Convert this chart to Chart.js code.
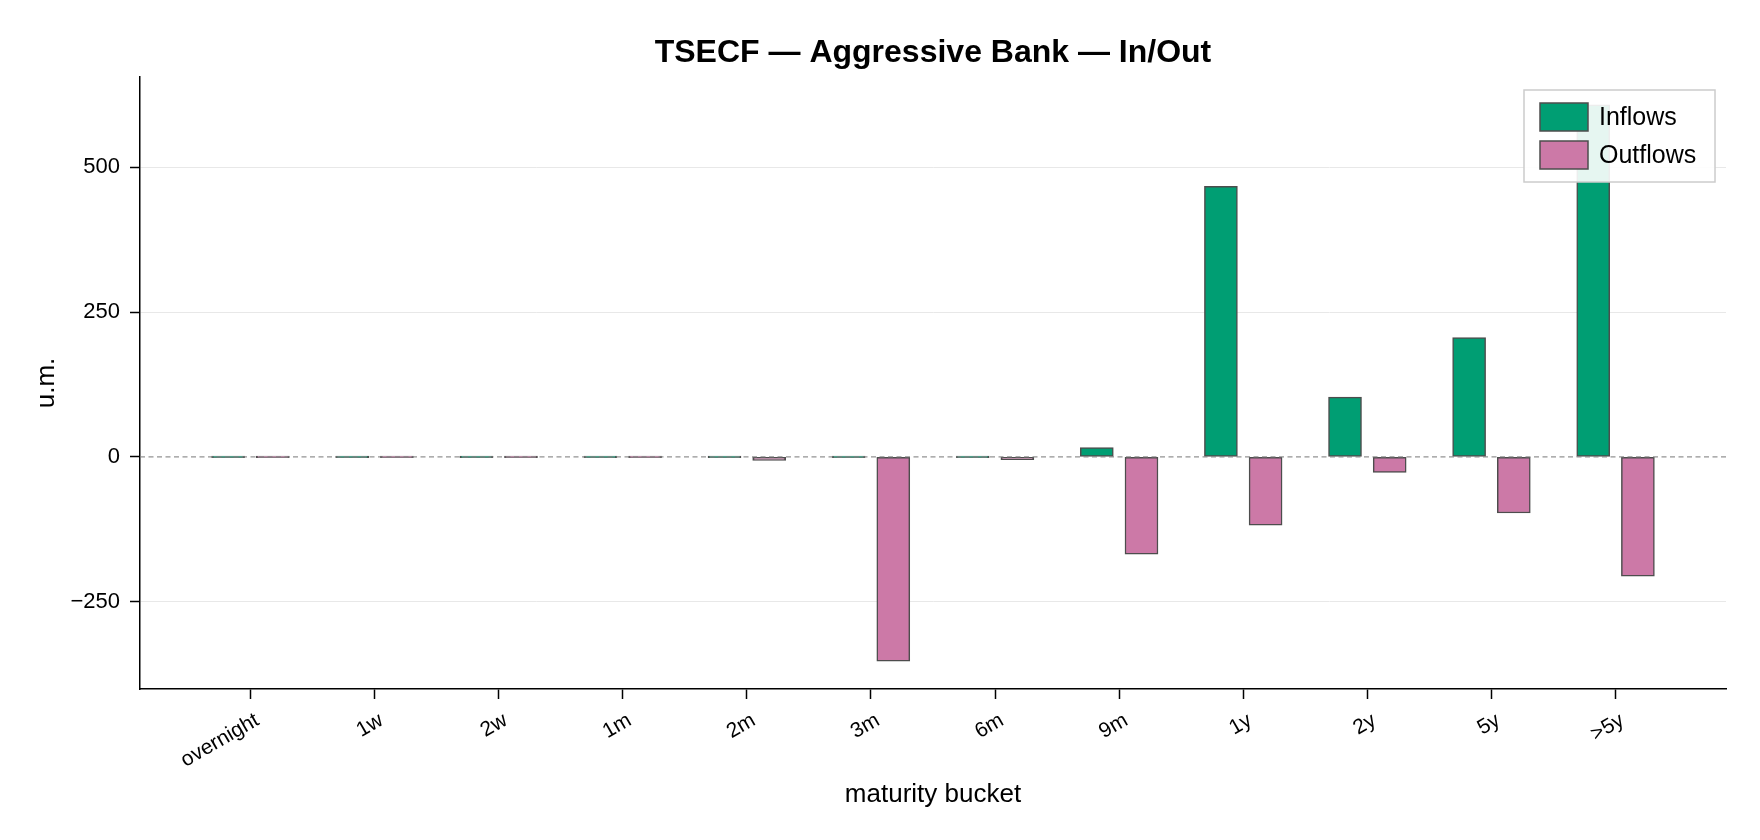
<!DOCTYPE html>
<html>
<head>
<meta charset="utf-8">
<script src="https://cdn.jsdelivr.net/npm/chart.js@4.4.0/dist/chart.umd.min.js"></script>
<style>
html,body{margin:0;padding:0;background:#fff;}
</style>
</head>
<body>
<canvas id="chart" width="1760" height="840"></canvas>
<script>
// data
const buckets = ['overnight','1w','2w','1m','2m','3m','6m','9m','1y','2y','5y','>5y'];
const inflows = [0, 0, 0, 0, 0, 0, 0, 16, 467, 103, 206, 608];
const outflows = [0, 0, 0, 0, -6, -353, -5, -168, -118, -27, -97, -206];
const yTicks = [-250, 0, 250, 500];
const chartTitle = 'TSECF \u2014 Aggressive Bank \u2014 In/Out';

const FONT = '"Liberation Sans", Arial, Helvetica, sans-serif';
Chart.defaults.font.family = FONT;
Chart.defaults.color = '#000';

// bars sit either side of the bucket tick
const toPoints = (vals, shift) => vals.map((v, i) => ({x: i + shift, y: v}));
const fmtNum = v => v < 0 ? '\u2212' + Math.abs(v) : String(v);

// title centred over the plot area, not the canvas
const plotTitle = {
  id: 'plotTitle',
  afterDraw(chart){
    const {ctx, chartArea} = chart;
    ctx.save();
    ctx.font = 'bold 32px ' + FONT;
    ctx.fillStyle = '#000';
    ctx.textAlign = 'center';
    ctx.textBaseline = 'middle';
    ctx.fillText(chartTitle, (chartArea.left + chartArea.right) / 2, chartArea.top - 24);
    ctx.restore();
  }
};

const zeroLine = {
  id: 'zeroLine',
  afterDatasetsDraw(chart){
    const {ctx, chartArea, scales} = chart;
    const y = scales.y.getPixelForValue(0);
    ctx.save();
    ctx.strokeStyle = 'rgba(128,128,128,0.85)';
    ctx.lineWidth = 1.3;
    ctx.setLineDash([5, 3.5]);
    ctx.beginPath();
    ctx.moveTo(chartArea.left, y);
    ctx.lineTo(chartArea.right, y);
    ctx.stroke();
    ctx.restore();
  }
};

const legendBox = {
  id: 'legendBox',
  afterDraw(chart){
    const {ctx, chartArea} = chart;
    const w = 191, h = 92;
    const left = chartArea.right - 11 - w, top = chartArea.top + 13;
    ctx.save();
    ctx.fillStyle = 'rgba(255,255,255,0.9)';
    ctx.fillRect(left, top, w, h);
    ctx.strokeStyle = '#cccccc';
    ctx.lineWidth = 1.5;
    ctx.strokeRect(left, top, w, h);
    ctx.font = '25px ' + FONT;
    ctx.textBaseline = 'middle';
    chart.data.datasets.forEach((ds, i) => {
      const cy = top + 27 + i * 38;
      ctx.fillStyle = ds.backgroundColor;
      ctx.fillRect(left + 16, cy - 14, 48, 28);
      ctx.strokeStyle = ds.borderColor;
      ctx.lineWidth = 1.5;
      ctx.strokeRect(left + 16, cy - 14, 48, 28);
      ctx.fillStyle = '#000';
      ctx.fillText(ds.label, left + 75, cy + 1);
    });
    ctx.restore();
  }
};

const barStyle = {borderColor: '#4d4d4d', borderWidth: 1.5, borderSkipped: false,
  barThickness: 33, grouped: false, minBarLength: 1.5};

new Chart(document.getElementById('chart'), {
  type: 'bar',
  data: {
    datasets: [
      Object.assign({label: 'Inflows', data: toPoints(inflows, -0.18), backgroundColor: '#009E73'}, barStyle),
      Object.assign({label: 'Outflows', data: toPoints(outflows, 0.18), backgroundColor: '#CC79A7'}, barStyle)
    ]
  },
  options: {
    responsive: false,
    devicePixelRatio: 1,
    animation: false,
    layout: {padding: {top: 77, right: 34, bottom: 0, left: 0}},
    plugins: {
      legend: {display: false},
      tooltip: {enabled: false},
      title: {display: false}
    },
    scales: {
      x: {
        type: 'linear',
        offset: false,
        min: -0.89,
        max: 11.89,
        afterBuildTicks: axis => { axis.ticks = buckets.map((b, i) => ({value: i})); },
        afterFit: s => { s.height = 151; },
        grid: {display: true, offset: false, drawOnChartArea: false, drawTicks: true,
               tickLength: 10, tickColor: '#000', tickWidth: 1.5},
        border: {display: true, color: '#000', width: 1.5},
        ticks: {
          autoSkip: false, maxRotation: 30, minRotation: 30, padding: 9, labelOffset: 7,
          font: {size: 21},
          callback: v => buckets[v]
        },
        title: {display: true, text: 'maturity bucket', font: {size: 26}, padding: {top: 0, bottom: 30}}
      },
      y: {
        min: -401,
        max: 656,
        afterBuildTicks: axis => { axis.ticks = yTicks.map(v => ({value: v})); },
        afterFit: s => { s.width = 140; },
        grid: {
          color: c => c.tick && c.tick.value === 0 ? 'rgba(0,0,0,0)' : '#e8e8e8',
          lineWidth: 1, tickLength: 10, tickColor: '#000', tickWidth: 1.5
        },
        border: {display: true, color: '#000', width: 1.5},
        ticks: {padding: 10, font: {size: 22}, callback: v => fmtNum(v)},
        title: {display: true, text: 'u.m.', font: {size: 26}, padding: {top: 31, bottom: 0}}
      }
    }
  },
  plugins: [zeroLine, legendBox, plotTitle]
});
</script>
</body>
</html>
